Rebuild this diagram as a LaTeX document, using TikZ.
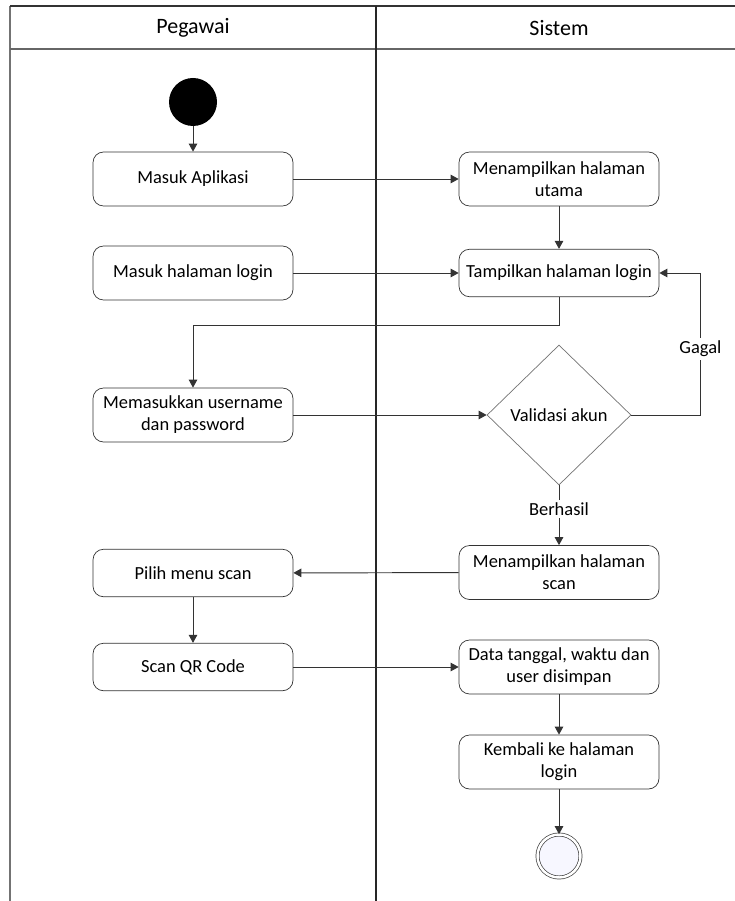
\documentclass[tikz,border=0pt]{standalone}
\usepackage{fontspec}
\setmainfont{Carlito}
\usetikzlibrary{arrows.meta, positioning, calc, shapes.geometric}
\tikzset{
  act/.style    = {draw=black!80, rectangle, rounded corners=6pt, align=center,
                   fill=white, font=\fontsize{10.5}{12.5}\selectfont,
                   minimum height=1.08cm, minimum width=4cm, inner sep=1pt},
  actlow/.style = {act, minimum height=0.95cm},
  decide/.style = {draw=black!55, diamond, fill=white, align=center,
                   font=\fontsize{10.5}{12.5}\selectfont, inner sep=0pt,
                   minimum width=2.88cm, minimum height=2.8cm},
  startpt/.style= {circle, fill=black, minimum size=0.96cm, inner sep=0pt},
  endpt/.style  = {circle, draw=black!75, double=white, double distance=1.4pt,
                   fill=blue!3, minimum size=0.86cm, inner sep=0pt},
  arr/.style    = {-{Triangle[length=1.6mm, width=1.7mm]}, draw=black!80,
                   line width=0.55pt},
  lbl/.style    = {font=\fontsize{10.5}{12.5}\selectfont, fill=white, inner sep=1.5pt},
  lane/.style   = {font=\fontsize{12.5}{14}\selectfont}
}

\begin{document}
\begin{tikzpicture}
  \useasboundingbox (0,0) rectangle (14.68,-18.02);

  % ── Swimlanes ─────────────────────────────────────────────────────────────
  \draw[black!55, line width=0.8pt] (0.2,-18.2) -- (0.2,-0.12);
  \draw[black!80, line width=0.6pt] (0.2,-0.12) -- (14.9,-0.12);
  \draw[black!60, line width=0.8pt] (0.2,-0.98) -- (14.9,-0.98);
  \draw[black!85, line width=0.6pt] (7.52,-0.12) -- (7.52,-18.2);
  \node[lane] (hPeg) at (3.86,-0.56) {Pegawai};
  \node[lane] (hSis) at (11.18,-0.56) {Sistem};

  % ── Pegawai lane ──────────────────────────────────────────────────────────
  \node[startpt]                      (start)   at (3.86,-2.04)  {};
  \node[act]                          (masuk)   at (3.86,-3.58)  {Masuk Aplikasi};
  \node[act]                          (halLogin) at (3.86,-5.46) {Masuk halaman login};
  \node[act]                          (input)   at (3.86,-8.30)  {Memasukkan username\\ dan password};
  \node[actlow]                       (pilih)   at (3.86,-11.46) {Pilih menu scan};
  \node[actlow]                       (qr)      at (3.86,-13.34) {Scan QR Code};

  % ── Sistem lane ───────────────────────────────────────────────────────────
  \node[act]                          (utama)   at (11.18,-3.58) {Menampilkan halaman\\ utama};
  \node[actlow]                       (tampil)  at (11.18,-5.46) {Tampilkan halaman login};
  \node[decide]                       (valid)   at (11.18,-8.30) {Validasi akun};
  \node[act]                          (scanSys) at (11.18,-11.45) {Menampilkan halaman\\ scan};
  \node[act]                          (simpan)  at (11.18,-13.34) {Data tanggal, waktu dan\\ user disimpan};
  \node[act]                          (kembali) at (11.18,-15.24) {Kembali ke halaman\\ login};
  \node[endpt]                        (finish)  at (11.18,-17.12) {};

  % ── Connections ───────────────────────────────────────────────────────────
  \draw[arr] (start)    -- (masuk);
  \draw[arr] (masuk)    -- (utama);
  \draw[arr] (utama)    -- (tampil);
  \draw[arr] (halLogin) -- (tampil);

  % login page back to the user
  \coordinate (tBend) at ($(tampil.south)+(0,-0.56)$);
  \draw[arr] (tampil.south) -- (tBend) -| (input.north);
  \draw[arr] (input)    -- (valid);

  % validation result
  \coordinate (gBend) at ($(valid.east)+(1.38,0)$);
  \draw[arr] (valid.east) -- (gBend) |- node[lbl, pos=0.232]{Gagal} (tampil.east);
  \draw[arr] (valid.south) -- node[lbl, pos=0.4]{Berhasil} (scanSys.north);

  % scanning
  \draw[arr] (scanSys)  -- (pilih);
  \draw[arr] (pilih)    -- (qr);
  \draw[arr] (qr)       -- (simpan);
  \draw[arr] (simpan)   -- (kembali);
  \draw[arr] (kembali)  -- (finish);

\end{tikzpicture}
\end{document}
